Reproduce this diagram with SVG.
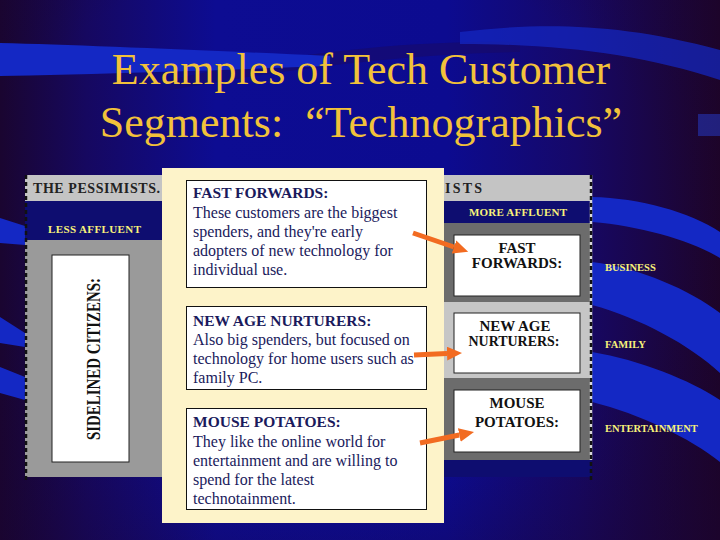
<svg xmlns="http://www.w3.org/2000/svg" width="720" height="540" viewBox="0 0 720 540">
<defs>
  <linearGradient id="bg" x1="0" y1="0" x2="1" y2="0">
    <stop offset="0" stop-color="#1a0530"/>
    <stop offset="0.12" stop-color="#160860"/>
    <stop offset="0.3" stop-color="#0d0c92"/>
    <stop offset="0.62" stop-color="#0c0b90"/>
    <stop offset="0.8" stop-color="#160868"/>
    <stop offset="1" stop-color="#1e0428"/>
  </linearGradient>
  <radialGradient id="vig" cx="0.45" cy="0.4" r="0.8">
    <stop offset="0.6" stop-color="#1a0430" stop-opacity="0"/>
    <stop offset="1" stop-color="#1a0430" stop-opacity="0.5"/>
  </radialGradient>
  <marker id="ah" markerUnits="userSpaceOnUse" markerWidth="16" markerHeight="14" refX="0" refY="7" orient="auto">
    <path d="M0,0 L15,7 L0,14 Z" fill="#f26b21"/>
  </marker>
</defs>
<style>
  .serif{font-family:"Liberation Serif","Times New Roman",serif}
  .title{font-size:44px;fill:#f2c23a;text-anchor:middle}
  .hdr{font-size:14px;font-weight:bold;fill:#222}
  .yl{font-size:11px;font-weight:bold;fill:#f8f27a}
  .side{font-size:10.5px;font-weight:bold;fill:#f8f27a}
  .seg{font-size:15px;font-weight:bold;fill:#111;text-anchor:middle}
  .wbox{fill:#fff;stroke:#222;stroke-width:1}
  .dbox{fill:#fff;stroke:#111;stroke-width:1}
  .head{font-size:15.5px;font-weight:bold;fill:#1a1a5c}
  .body{font-size:16px;fill:#1a1a5c}
  .band{fill:#1428c4}
  .dash{stroke:#111;stroke-width:2.5;stroke-dasharray:4 3;fill:none}
  .arrow{stroke:#f26b21;stroke-width:5;fill:none;marker-end:url(#ah)}
</style>

<!-- background -->
<rect x="0" y="0" width="720" height="540" fill="url(#bg)"/>
<rect x="0" y="0" width="720" height="540" fill="url(#vig)"/>
<path d="M170,80 C260,60 380,40 520,42 L520,52 C400,54 280,70 170,90 Z" fill="#1a0a60" opacity="0.5"/>
<path class="band" d="M0,43 C80,45 200,50 330,56 L330,66 C220,70 100,74 0,76 Z"/>
<path class="band" d="M460,32 C530,24 610,20 720,50 L720,80 C640,54 560,44 460,44 Z" opacity="0.7"/>
<rect x="698" y="114" width="22" height="22" fill="#2434b4" opacity="0.6"/>
<path class="band" d="M592,197 C640,198 690,212 720,232 L720,258 C690,240 640,226 592,222 Z"/>
<path class="band" d="M592,262 C640,268 690,290 720,313 L720,373 C690,345 640,318 592,305 Z"/>
<path class="band" d="M592,352 C640,360 690,380 720,400 L720,462 C690,438 640,414 592,402 Z"/>
<path class="band" d="M0,218 L25,226 L25,245 L0,243 Z"/>
<path class="band" d="M0,317 L25,333 L25,347 L0,343 Z"/>
<path class="band" d="M0,367 L25,377 L25,400 L0,393 Z"/>

<!-- title -->
<g id="title" class="serif">
  <text class="title" x="361" y="84">Examples of Tech Customer</text>
  <text class="title" x="361" y="137" xml:space="preserve">Segments:  “Technographics”</text>
</g>

<!-- pasted chart background -->
<g id="chart-frame">
  <rect x="25" y="201" width="567" height="276" fill="#0e0d70"/>
  <rect x="25" y="175" width="566" height="26" fill="#c4c4c4"/>
  <rect x="25" y="240" width="140" height="237" fill="#9a9a9a"/>
  <rect x="440" y="223" width="152" height="79" fill="#6c6c6c"/>
  <rect x="440" y="302" width="152" height="76" fill="#c6c6c6"/>
  <rect x="440" y="378" width="152" height="82" fill="#6c6c6c"/>
  <line x1="591" y1="175" x2="591" y2="460" stroke="#d8d8d8" stroke-width="2.5"/>
  <line class="dash" x1="26" y1="175" x2="26" y2="480"/>
  <line class="dash" x1="591" y1="175" x2="591" y2="483"/>
</g>

<g id="pessimists" class="serif">
  <text class="hdr" x="33" y="193" textLength="127" lengthAdjust="spacing">THE PESSIMISTS.</text>
</g>
<g id="optimists" class="serif">
  <text class="hdr" x="445" y="193" textLength="37" lengthAdjust="spacing">ISTS</text>
</g>
<g id="less-affluent" class="serif">
  <text class="yl" x="48" y="233" textLength="93" lengthAdjust="spacing">LESS AFFLUENT</text>
</g>
<g id="more-affluent" class="serif">
  <text class="yl" x="469" y="216" textLength="98" lengthAdjust="spacing">MORE AFFLUENT</text>
</g>

<g id="sidelined-citizens" class="serif">
  <rect class="wbox" x="52" y="255" width="77" height="207"/>
  <text transform="translate(99.5,359) rotate(-90)" x="0" y="0" font-size="19" font-weight="bold" fill="#111" text-anchor="middle" textLength="162" lengthAdjust="spacingAndGlyphs">SIDELINED CITIZENS:</text>
</g>

<!-- right segment boxes -->
<g id="seg-fast-forwards" class="serif">
  <rect class="wbox" x="454" y="235" width="126" height="61"/>
  <text class="seg" x="517" y="253">FAST</text>
  <text class="seg" x="517" y="268">FORWARDS:</text>
</g>
<g id="seg-new-age-nurturers" class="serif">
  <rect class="wbox" x="454" y="313" width="126" height="60"/>
  <text class="seg" x="515" y="331">NEW AGE</text>
  <text class="seg" x="514" y="346" textLength="91" lengthAdjust="spacingAndGlyphs">NURTURERS:</text>
</g>
<g id="seg-mouse-potatoes" class="serif">
  <rect class="wbox" x="454" y="390" width="126" height="62"/>
  <text class="seg" x="517" y="408">MOUSE</text>
  <text class="seg" x="517" y="427">POTATOES:</text>
</g>

<g id="label-business" class="serif"><text class="side" x="605" y="271">BUSINESS</text></g>
<g id="label-family" class="serif"><text class="side" x="605" y="348">FAMILY</text></g>
<g id="label-entertainment" class="serif"><text class="side" x="605" y="432">ENTERTAINMENT</text></g>

<!-- callout panel -->
<g id="callout-panel">
  <rect x="162" y="168" width="282" height="355" fill="#fdf3c9"/>
</g>
<g id="desc-fast-forwards" class="serif">
  <rect class="dbox" x="186.5" y="180.5" width="240" height="107"/>
  <text class="head" x="193" y="198">FAST FORWARDS:</text>
  <text class="body" x="193" y="218">These customers are the biggest</text>
  <text class="body" x="193" y="237">spenders, and they're early</text>
  <text class="body" x="193" y="256">adopters of new technology for</text>
  <text class="body" x="193" y="275">individual use.</text>
</g>
<g id="desc-new-age-nurturers" class="serif">
  <rect class="dbox" x="186.5" y="306.5" width="240" height="83"/>
  <text class="head" x="193" y="326">NEW AGE NURTURERS:</text>
  <text class="body" x="193" y="345">Also big spenders, but focused on</text>
  <text class="body" x="193" y="364">technology for home users such as</text>
  <text class="body" x="193" y="383">family PC.</text>
</g>
<g id="desc-mouse-potatoes" class="serif">
  <rect class="dbox" x="186.5" y="408.5" width="240" height="101"/>
  <text class="head" x="193" y="427">MOUSE POTATOES:</text>
  <text class="body" x="193" y="447">They like the online world for</text>
  <text class="body" x="193" y="466">entertainment and are willing to</text>
  <text class="body" x="193" y="485">spend for the latest</text>
  <text class="body" x="193" y="504">technotainment.</text>
</g>

<!-- connectors -->
<g id="connectors">
  <line class="arrow" x1="413" y1="233" x2="454" y2="247"/>
  <line class="arrow" x1="414" y1="355" x2="447" y2="353.6"/>
  <line class="arrow" x1="420" y1="443" x2="459.3" y2="435"/>
</g>
</svg>
